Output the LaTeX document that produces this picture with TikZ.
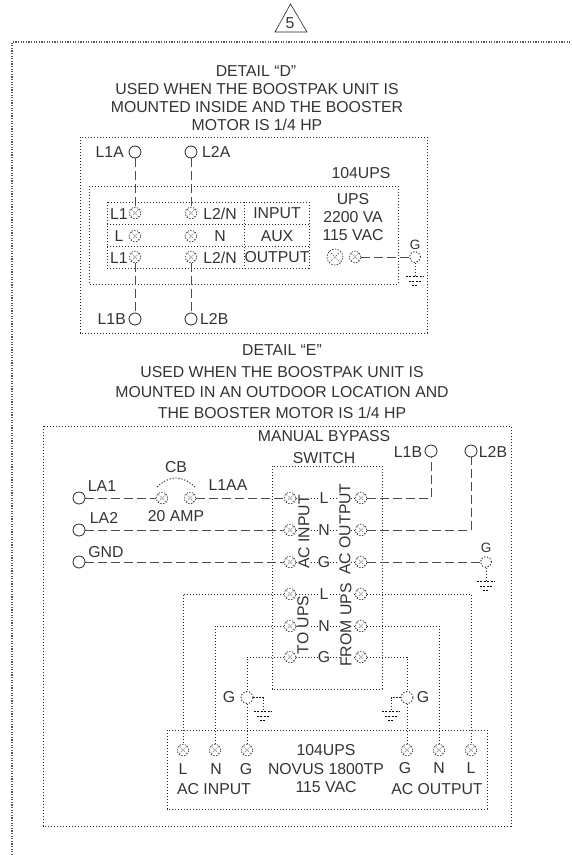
\documentclass[tikz,border=0pt]{standalone}
\usepackage{fontspec}
\setmainfont{Liberation Sans}
\tikzset{
    lbl/.style={inner sep=0pt, text=black!80, font=\fontsize{15.8}{18}\selectfont},
    small/.style={inner sep=0pt, text=black!80, font=\fontsize{13.5}{14}\selectfont},
    dot/.style={line width=0.9pt, dash pattern=on 1.2pt off 1.8pt, black!85},
    wire/.style={line width=0.9pt, dash pattern=on 8.5pt off 4.5pt, black!70},
    port/.style={circle, draw, black!85, line width=0.8pt, minimum size=12pt, inner sep=0pt},
    gport/.style={circle, dot, draw, minimum size=12pt, inner sep=0pt},
    term/.style={circle, draw, line width=0.7pt, dash pattern=on 1.4pt off 1.4pt, black!75, minimum size=11.5pt, inner sep=0pt,
        path picture={\draw[line width=0.6pt, dash pattern=on 1.4pt off 1.6pt] (path picture bounding box.north west) -- (path picture bounding box.south east)
            (path picture bounding box.north east) -- (path picture bounding box.south west);}},
    grnd/.pic={
        \draw[line width=0.7pt, dash pattern=on 2pt off 1.4pt] (-9,0) -- (9,0);
        \draw[line width=0.7pt, dash pattern=on 2pt off 1.4pt] (-6,5) -- (6,5);
        \draw[line width=0.7pt, dash pattern=on 2pt off 1.4pt] (-3,9.5) -- (3,9.5);
    }
}
\begin{document}
\begin{tikzpicture}[x=1pt, y=-1pt]
    \useasboundingbox (0,0) rectangle (571,855);
    \draw[line width=0.6pt, black!85] (275,32) -- (290.5,4) -- (307,32) -- cycle;
    \node[lbl] (rev) at (290,23) {5};
    \draw[line width=1.1pt, dash pattern=on 1.2pt off 1.4pt, black!65] (12,855) -- (12,42) -- (571,42);

    \node[lbl] (dtitle) at (256,71) {DETAIL “D”};
    \node[lbl] at (257,89) {USED WHEN THE BOOSTPAK UNIT IS};
    \node[lbl] at (257,107) {MOUNTED INSIDE AND THE BOOSTER};
    \node[lbl] at (257,125) {MOTOR IS 1/4 HP};

    \draw[dot] (80,137) rectangle (427,333);
    \draw[dot] (89,186) rectangle (398,284);
    \draw[dot] (107,202) rectangle (309,268);
    \draw[dot] (107,224) -- (309,224);
    \draw[dot] (107,246) -- (309,246);
    \draw[dot] (244,202) -- (244,268);

    \node[port] (l1a) at (135,152) {};
    \node[port] (l2a) at (191,152) {};
    \node[port] (l1b) at (135,319) {};
    \node[port] (l2b) at (191,319) {};
    \node[lbl, left=0pt] at (124,152) {L1A};
    \node[lbl, right=0pt] at (202,152) {L2A};
    \node[lbl, left=0pt] at (126,319) {L1B};
    \node[lbl, right=0pt] at (200,319) {L2B};
    \node[lbl] at (361,173) {104UPS};
    \node[lbl] at (353,199) {UPS};
    \node[lbl] at (353,217) {2200 VA};
    \node[lbl] at (353,235) {115 VAC};

    \node[term] (dt1) at (135,213) {};
    \node[term] (dt2) at (191,213) {};
    \node[term] (dt3) at (135,236) {};
    \node[term] (dt4) at (191,236) {};
    \node[term] (dt5) at (135,257) {};
    \node[term] (dt6) at (191,257) {};
    \node[lbl] at (119,214) {L1};
    \node[lbl] at (220,214) {L2/N};
    \node[lbl] at (277,213) {INPUT};
    \node[lbl] at (119,236) {L};
    \node[lbl] at (220,236) {N};
    \node[lbl] at (277,236) {AUX};
    \node[lbl] at (119,258) {L1};
    \node[lbl] at (220,258) {L2/N};
    \node[lbl] at (277,257) {OUTPUT};

    \draw[wire] (l1a) -- (dt1);
    \draw[wire] (l2a) -- (dt2);
    \draw[wire] (dt5) -- (l1b);
    \draw[wire] (dt6) -- (l2b);

    \node[term, minimum size=16pt] (dbig) at (335,257) {};
    \node[term] (dgt) at (355,257) {};
    \node[draw, circle, dot, minimum size=11pt, inner sep=0pt] (dg) at (415,257) {};
    \node[small] at (415,245) {G};
    \coordinate (dgnd) at (415,276);
    \draw[wire] (dgt) -- (dg);
    \draw[dot] (dg) -- (dgnd);
    \pic at (dgnd) {grnd};

    \node[lbl] (etitle) at (282,350) {DETAIL “E”};
    \node[lbl] at (282,372) {USED WHEN THE BOOSTPAK UNIT IS};
    \node[lbl] at (282,392) {MOUNTED IN AN OUTDOOR LOCATION AND};
    \node[lbl] at (282,413) {THE BOOSTER MOTOR IS 1/4 HP};

    \draw[dot] (43,426) rectangle (511,826);
    \draw[dot] (272,466) rectangle (382,689);
    \draw[dot] (167,730) rectangle (487,809);

    \node[lbl] at (324,436) {MANUAL BYPASS};
    \node[lbl] at (324,458) {SWITCH};
    \node[lbl] at (408,452) {L1B};
    \node[lbl] at (493,452) {L2B};
    \node[lbl] at (102,486) {LA1};
    \node[lbl] at (104,518) {LA2};
    \node[lbl] at (106,552) {GND};
    \node[lbl] at (176,467) {CB};
    \node[lbl] at (176,516) {20 AMP};
    \node[lbl] at (228,485) {L1AA};

    \node[port] (la1) at (79,498) {};
    \node[port] (la2) at (79,530) {};
    \node[port] (gnd) at (79,562) {};
    \node[port] (el1b) at (431,451) {};
    \node[port] (el2b) at (471,451) {};
    \node[term] (cb1) at (162,498) {};
    \node[term] (cb2) at (190,498) {};
    \draw[dot] (157,487) .. controls (170,475) and (182,475) .. (195,487);

    \node[term] (il) at (290,498) {};
    \node[term] (in) at (290,530) {};
    \node[term] (ig) at (290,562) {};
    \node[term] (ol) at (361,498) {};
    \node[term] (on) at (361,530) {};
    \node[term] (og) at (361,562) {};
    \node[term] (tl) at (290,594) {};
    \node[term] (tn) at (290,626) {};
    \node[term] (tg) at (290,657) {};
    \node[term] (fl) at (361,594) {};
    \node[term] (fn) at (361,626) {};
    \node[term] (fg) at (361,657) {};
    \node[lbl] (cl1) at (324,498) {L};
    \node[lbl] (cn1) at (324,530) {N};
    \node[lbl] (cg1) at (324,562) {G};
    \node[lbl] (cl2) at (324,594) {L};
    \node[lbl] (cn2) at (324,626) {N};
    \node[lbl] (cg2) at (324,657) {G};

    \draw[dot] (il) -- (cl1);
    \draw[dot] (in) -- (cn1);
    \draw[dot] (ig) -- (cg1);
    \draw[dot] (ol) -- (cl1);
    \draw[dot] (on) -- (cn1);
    \draw[dot] (og) -- (cg1);
    \draw[dot] (tl) -- (cl2);
    \draw[dot] (tn) -- (cn2);
    \draw[dot] (tg) -- (cg2);
    \draw[dot] (fl) -- (cl2);
    \draw[dot] (fn) -- (cn2);
    \draw[dot] (fg) -- (cg2);

    \node[lbl, rotate=90, fill=white] at (304,532) {AC INPUT};
    \node[lbl, rotate=90, fill=white] at (345,529) {AC OUTPUT};
    \node[lbl, rotate=90, fill=white] at (303,625) {TO UPS};
    \node[lbl, rotate=90, fill=white] at (346,625) {FROM UPS};

    \draw[wire] (la1) -- (cb1);
    \draw[wire] (cb2) -- (il);
    \draw[wire] (la2) -- (in);
    \draw[wire] (gnd) -- (ig);
    \draw[wire] (ol) -| (el1b);
    \draw[wire] (on) -| (el2b);
    \node[draw, circle, dot, minimum size=11pt, inner sep=0pt] (eg) at (486,562) {};
    \node[small] at (486,548) {G};
    \coordinate (egnd) at (486,581);
    \draw[wire] (og) -- (eg);
    \draw[dot] (eg) -- (egnd);
    \pic at (egnd) {grnd};

    \node[term] (bl1) at (183,750) {};
    \node[term] (bn1) at (215,750) {};
    \node[term] (bg1) at (247,750) {};
    \node[term] (bg2) at (407,750) {};
    \node[term] (bn2) at (439,750) {};
    \node[term] (bl2) at (471,750) {};
    \node[gport] (g1) at (247,697.5) {};
    \node[gport] (g2) at (407,697.5) {};
    \node[lbl] at (229,697.5) {G};
    \node[lbl] at (423,697.5) {G};
    \coordinate (ggnd1) at (263,711);
    \coordinate (ggnd2) at (391,711);
    \pic at (ggnd1) {grnd};
    \pic at (ggnd2) {grnd};

    \draw[dot] (tl) -| (bl1);
    \draw[dot] (tn) -| (bn1);
    \draw[dot] (tg) -| (g1);
    \draw[dot] (g1) -- (bg1);
    \draw[dot] (fl) -| (bl2);
    \draw[dot] (fn) -| (bn2);
    \draw[dot] (fg) -| (g2);
    \draw[dot] (g2) -- (bg2);
    \draw[dot] (g1) -| (ggnd1);
    \draw[dot] (g2) -| (ggnd2);

    \node[lbl] at (183,769) {L};
    \node[lbl] at (216,769) {N};
    \node[lbl] at (246,769) {G};
    \node[lbl] at (214,789) {AC INPUT};
    \node[lbl] at (326,750) {104UPS};
    \node[lbl] at (326,769) {NOVUS 1800TP};
    \node[lbl] at (326,787) {115 VAC};
    \node[lbl] at (405,768) {G};
    \node[lbl] at (439,768) {N};
    \node[lbl] at (471,768) {L};
    \node[lbl] at (437,789) {AC OUTPUT};
\end{tikzpicture}
\end{document}
